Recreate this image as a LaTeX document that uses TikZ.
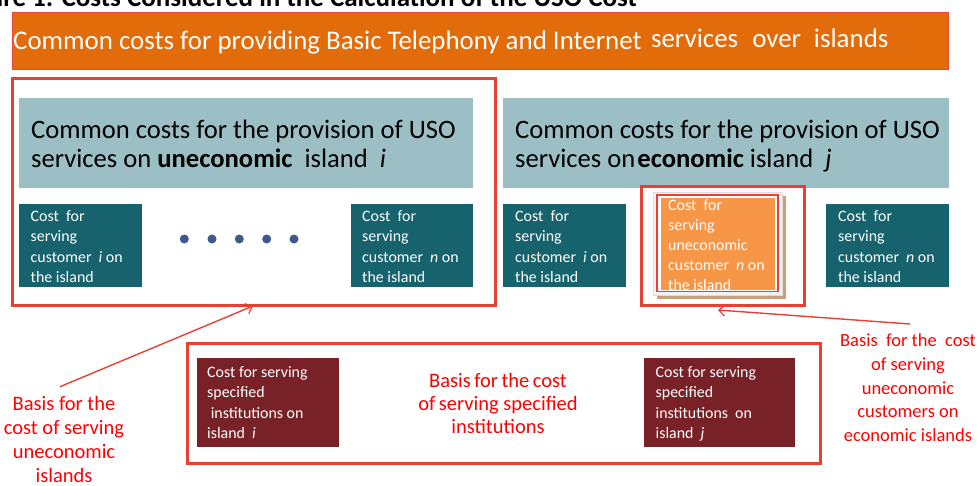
\documentclass[tikz,border=0pt]{standalone}
\usepackage{fontspec}
\setmainfont{Carlito}
\usetikzlibrary{arrows.meta}

\definecolor{bannerfill}{RGB}{226,107,10}
\definecolor{bannerline}{RGB}{232,72,58}
\definecolor{framered}{RGB}{233,64,52}
\definecolor{hdrfill}{RGB}{155,191,196}
\definecolor{tealfill}{RGB}{23,99,109}
\definecolor{maroonfill}{RGB}{120,34,40}
\definecolor{orangefill}{RGB}{247,150,70}
\definecolor{tanfill}{RGB}{201,160,122}
\definecolor{rimfill}{RGB}{242,242,242}
\definecolor{rimline}{RGB}{220,220,220}
\definecolor{dotblue}{RGB}{59,89,140}
\definecolor{notered}{RGB}{255,0,0}

% rectangle node given by its corners: style, name, x1, y1, x2, y2
\newcommand\rectnode[6]{%
  \node[#1, minimum width={(#5)-(#3)}, minimum height={(#6)-(#4)}]
    (#2) at ({((#3)+(#5))/2},{((#4)+(#6))/2}) {};}

\begin{document}
\begin{tikzpicture}[x=1pt, y=-1pt,
  area/.style={inner sep=0pt, outer sep=0pt},
  redframe/.style={area, draw=framered, line width=3pt},
  banner/.style={area, fill=bannerfill, draw=bannerline, line width=1pt},
  hdrbox/.style={area, fill=hdrfill},
  tealcell/.style={area, fill=tealfill},
  marooncell/.style={area, fill=maroonfill},
  % multi-line text nodes are placed by the baseline of their last line
  hdrtext/.style={inner sep=0pt, anchor=base west, align=left,
    font=\fontsize{26.6}{29.5}\selectfont},
  celltext/.style={inner sep=0pt, anchor=base west, align=left, text=white,
    font=\fontsize{15.9}{20.5}\selectfont},
  note/.style={inner sep=0pt, anchor=base, align=center, text=notered},
  dot/.style={circle, fill=dotblue, inner sep=0pt, minimum size=9pt},
  pointer/.style={draw=framered, line width=1.4pt,
    -{Straight Barb[length=6pt, width=11pt, line width=1.2pt]}}
]
\useasboundingbox (0,0) rectangle (978,485);

% caption, cut off by the page edge
\node[inner sep=0pt, anchor=base east, font=\bfseries\fontsize{27}{31}\selectfont]
  (caption) at (637,6) {Figure 1: Costs Considered in the Calculation of the USO Cost};

% banner across the top
\rectnode{banner}{top}{12}{12}{948}{69}
\node[inner sep=0pt, anchor=base west, text=white, font=\fontsize{26.9}{30}\selectfont]
  (toptext) at (13,49.3)
  {Common costs for providing Basic Telephony and Internet\hspace{0.35em}\raisebox{1.5pt}{services\hspace{0.3em} over\hspace{0.25em} islands}};

% ---- uneconomic island group
\rectnode{redframe}{frameL}{12}{78}{495}{305}
\rectnode{hdrbox}{hdrL}{19}{98}{473}{188}
\node[hdrtext] (hdrLtext) at (31,167.7)
  {Common costs for the provision of USO\\services on \textbf{uneconomic}\ \ island\ \ \textit{i}};
\rectnode{tealcell}{cellLi}{19}{204}{142}{287}
\node[celltext] (cellLitext) at (30.5,282.5)
  {Cost\ \ for\\serving\\customer\ \ \textit{i} on\\the\ island};
\rectnode{tealcell}{cellLn}{351}{204}{473}{287}
\node[celltext] (cellLntext) at (362,282.5)
  {Cost\ \ for\\serving\\customer\ \ \textit{n} on\\the\ island};
\foreach \k/\xx in {1/184.3, 2/212, 3/239.3, 4/266.7, 5/294}
  \node[dot] (dot\k) at (\xx,239) {};

% ---- economic island group
\rectnode{hdrbox}{hdrR}{503}{98}{949}{188}
\node[hdrtext] (hdrRtext) at (515,167.7)
  {Common costs for the provision of USO\\services on\hspace{2pt}\textbf{economic} island\ \ \textit{j}};
\rectnode{tealcell}{cellRi}{503}{204}{626}{287}
\node[celltext] (cellRitext) at (515,282.5)
  {Cost\ \ for\\serving\\customer\ \ \textit{i} on\\the\ island};
\rectnode{tealcell}{cellRn}{826}{204}{949}{287}
\node[celltext] (cellRntext) at (838,282.5)
  {Cost\ \ for\\serving\\customer\ \ \textit{n} on\\the\ island};

% highlighted uneconomic customer on an economic island
\rectnode{area, fill=tanfill}{shadow}{657}{196}{786}{299}
\rectnode{area, fill=rimfill, draw=rimline, line width=0.6pt}{rim}{653}{192}{782}{295}
\rectnode{area, fill=white, draw=framered, line width=1.2pt}{innerline}{657}{195}{778}{291.5}
\rectnode{area, fill=orangefill}{cellRu}{660.5}{198}{775}{290}
\node[celltext, font=\fontsize{15.9}{20}\selectfont] (cellRutext) at (668,290)
  {Cost\ \ for\\serving\\uneconomic\\customer\ \ \textit{n} on\\the\ island};
\rectnode{redframe}{frameR}{641}{186}{804}{305}

% ---- specified institutions
\rectnode{redframe}{frameB}{187}{343}{820}{463}
\rectnode{marooncell}{instI}{197}{358}{339}{447}
\node[celltext] (instItext) at (207,438.5)
  {Cost for serving\\specified\\\ institutions on\\island\ \ \textit{i}};
\rectnode{marooncell}{instJ}{644}{358}{795}{447}
\node[celltext] (instJtext) at (655.5,438.5)
  {Cost for serving\\specified\\institutions\ \ on\\island\ \ \textit{j}};
\node[note, font=\fontsize{20.5}{23}\selectfont] (noteB) at (498,433)
  {Basis\,for\,the\,cost\\of\,serving specified\\institutions};

% ---- side notes with pointers
\node[note, font=\fontsize{20.5}{24}\selectfont] (noteL) at (64,482.5)
  {Basis\ for\ the\\cost of serving\\uneconomic\\islands};
\node[note, font=\fontsize{18.5}{23.75}\selectfont] (noteR) at (908,441.7)
  {Basis\ \ for the\ \ cost\\of serving\\uneconomic\\customers on\\economic islands};

\coordinate (tipL) at (253,306);
\coordinate (tailL) at (60,386.7);
\coordinate (tipR) at (718,310);
\coordinate (tailR) at (910,324);
\draw[pointer] (tailL) -- (tipL);
\draw[pointer] (tailR) -- (tipR);
\end{tikzpicture}
\end{document}
